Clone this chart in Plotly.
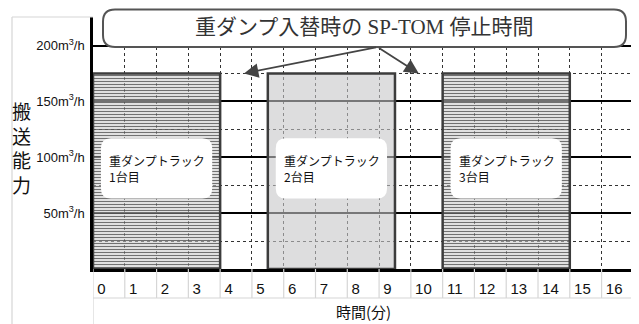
import plotly.graph_objects as go

# data
truck_labels = ["重ダンプトラック<br>1台目", "重ダンプトラック<br>2台目", "重ダンプトラック<br>3台目"]
start_min = [0, 5.5, 11]
end_min = [4, 9.5, 15]
capacity = [175, 175, 175]
hatched = [True, False, True]

x_ticks = list(range(0, 18))
x_ticktext = [str(v) for v in range(0, 17)] + [""]
y_ticks = [50, 100, 150, 200]
y_ticktext = ["50m<sup>3</sup>/h", "100m<sup>3</sup>/h", "150m<sup>3</sup>/h", "200m<sup>3</sup>/h"]

callout_text = "重ダンプ入替時の SP-TOM 停止時間"
x_title = "時間(分)"
y_title = "搬<br>送<br>能<br>力"

# the page body has an 8px margin, so the figure is laid out 8px up/left
OFF = 8
W, H = 639 - OFF, 324 - OFF
PL, PT, PW, PH = 93, 17, 541, 252          # plot area in page pixels
ML, MT = PL - OFF, PT - OFF
MR, MB = W - ML - PW, H - MT - PH
Y_MAX = 225.5
X_MAX = 17.02


def paper_x(px):
    return (px - PL) / PW


def paper_y(py):
    return (PT + PH - py) / PH


def rrect(x0, y0, x1, y1, rx, ry):
    return (f"M{x0+rx},{y0} L{x1-rx},{y0} Q{x1},{y0} {x1},{y0+ry} "
            f"L{x1},{y1-ry} Q{x1},{y1} {x1-rx},{y1} L{x0+rx},{y1} "
            f"Q{x0},{y1} {x0},{y1-ry} L{x0},{y0+ry} Q{x0},{y0} {x0+rx},{y0} Z")


fig = go.Figure()

centers = [(s + e) / 2 for s, e in zip(start_min, end_min)]
widths = [e - s for s, e in zip(start_min, end_min)]
fig.add_trace(go.Bar(
    x=centers, y=capacity, width=widths,
    marker=dict(
        color=["rgba(238,238,238,0.5)" if h else "rgba(198,198,200,0.6)" for h in hatched],
        line=dict(color="#3c3c3c", width=2.5),
        pattern=dict(shape=["-" if h else "" for h in hatched],
                     fgcolor="#a8a8a8", fgopacity=0.75, bgcolor="rgba(238,238,238,0.45)",
                     size=3, solidity=0.45),
    ),
    hoverinfo="skip", showlegend=False,
))

shapes = []
# white rounded label boxes inside each truck block
px_x = X_MAX / PW
px_y = Y_MAX / PH
for s, e in zip(start_min, end_min):
    shapes.append(dict(type="path", xref="x", yref="y", layer="above",
                       path=rrect(s + 0.25, 63, e - 0.25, 117, 10 * px_x, 10 * px_y),
                       fillcolor="white", line=dict(width=0)))

# label row separators and table frame
sep_y = paper_y(298)
bot_y = paper_y(324)
for v in x_ticks:
    shapes.append(dict(type="line", xref="x", yref="paper", x0=v, x1=v, y0=0,
                       y1=bot_y if v in (0, 17) else sep_y,
                       line=dict(color="#d6d6d6", width=1.2)))
shapes.append(dict(type="line", xref="paper", yref="paper", x0=0, x1=1, y0=sep_y, y1=sep_y,
                   line=dict(color="#d6d6d6", width=1.2)))
fx = paper_x(12)
shapes.append(dict(type="line", xref="paper", yref="paper", x0=fx, x1=0, y0=1, y1=1,
                   line=dict(color="#d6d6d6", width=1.2)))
shapes.append(dict(type="line", xref="paper", yref="paper", x0=fx, x1=fx, y0=1, y1=bot_y,
                   line=dict(color="#d6d6d6", width=1.2)))

# callout box
cx0, cx1 = paper_x(103), paper_x(626)
cy0, cy1 = paper_y(47), paper_y(9.5)
shapes.append(dict(type="path", xref="paper", yref="paper", layer="above",
                   path=rrect(cx0, cy0, cx1, cy1, 12 / PW, 12 / PH),
                   fillcolor="white", line=dict(color="#555555", width=2)))

annotations = []
for s, lbl in zip(start_min, truck_labels):
    annotations.append(dict(x=s + 0.45, y=90, xref="x", yref="y", text=lbl,
                            showarrow=False, xanchor="left", yanchor="middle", align="left",
                            font=dict(family="Noto Sans CJK JP", size=12, color="#111")))

# arrows pointing at the stop intervals between trucks
tail_x = 8.95
tail_y = cy0 * Y_MAX
for i in range(len(start_min) - 1):
    gap_mid = (end_min[i] + start_min[i + 1]) / 2
    annotations.append(dict(x=gap_mid, y=capacity[i], xref="x", yref="y",
                            ax=tail_x, ay=tail_y, axref="x", ayref="y", text="",
                            showarrow=True, arrowhead=2, arrowsize=1.6, arrowwidth=1.8,
                            arrowcolor="#444444", standoff=0, startstandoff=0))

annotations.append(dict(x=(cx0 + cx1) / 2, y=paper_y(27), xref="paper", yref="paper",
                        text=callout_text, showarrow=False, xanchor="center", yanchor="middle",
                        font=dict(family="Liberation Serif, Noto Sans CJK JP", size=21, color="#333")))
annotations.append(dict(x=paper_x(21), y=paper_y(148), xref="paper", yref="paper",
                        text=y_title, showarrow=False, xanchor="center", yanchor="middle",
                        font=dict(family="Noto Sans CJK JP", size=19, color="#111")))
annotations.append(dict(x=0.5, y=paper_y(311), xref="paper", yref="paper",
                        text=x_title, showarrow=False, xanchor="center", yanchor="middle",
                        font=dict(family="Noto Sans CJK JP", size=15, color="#111")))

fig.update_layout(
    width=W, height=H,
    margin=dict(l=ML, r=MR, t=MT, b=MB),
    paper_bgcolor="white", plot_bgcolor="white",
    shapes=shapes, annotations=annotations,
    xaxis=dict(range=[0, X_MAX], tickvals=x_ticks, ticktext=x_ticktext, automargin=False,
               ticklabelposition="outside right", ticklabelshift=3, ticklabelstandoff=4,
               showgrid=True, gridcolor="#333333", griddash="dot", gridwidth=1,
               showline=True, linecolor="black", linewidth=2.5, zeroline=False,
               tickfont=dict(family="Liberation Sans Narrow, Liberation Sans", size=15, color="#111")),
    yaxis=dict(range=[0, Y_MAX], tickvals=y_ticks, ticktext=y_ticktext, automargin=False,
               showgrid=True, gridcolor="black", gridwidth=2,
               minor=dict(dtick=25, tick0=0, showgrid=True, gridcolor="#333333",
                          griddash="dot", gridwidth=1),
               showline=True, linecolor="black", linewidth=2.5, zeroline=False,
               ticklabelstandoff=3,
               tickfont=dict(family="Liberation Sans Narrow, Liberation Sans", size=13, color="#111")),
)

fig.write_html("out.html")
